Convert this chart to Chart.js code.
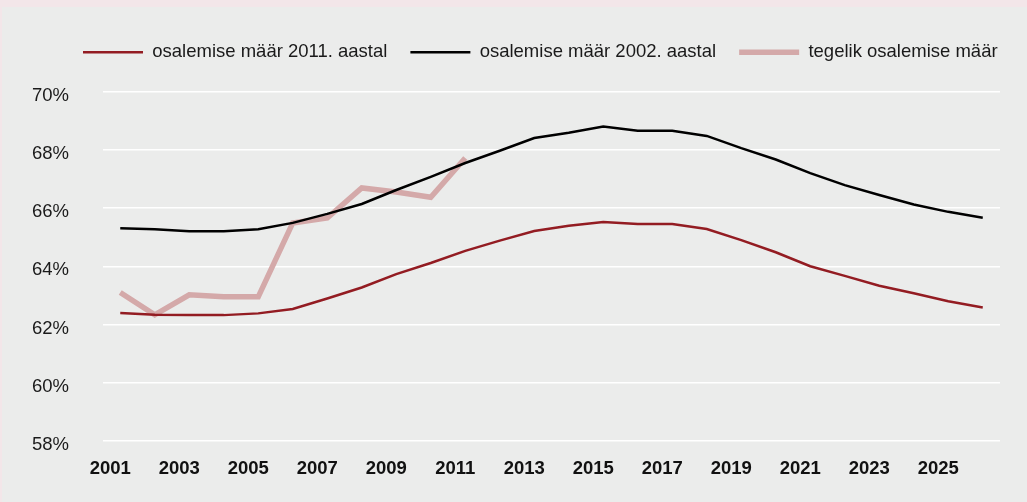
<!DOCTYPE html>
<html>
<head>
<meta charset="utf-8">
<script src="https://cdn.jsdelivr.net/npm/chart.js@4.4.1/dist/chart.umd.min.js"></script>
<style>
  html, body { margin: 0; padding: 0; }
  body { width: 1027px; height: 502px; background: #ebeceb; position: relative; overflow: hidden; }
  .band-top { position: absolute; left: 0; top: 0; width: 1027px; height: 7px; background: #f3e6e9; }
  .band-left { position: absolute; left: 0; top: 0; width: 2px; height: 502px; background: #f3e6e9; }
  .wrap { position: absolute; left: 0; top: 0; width: 1027px; height: 502px; }
</style>
</head>
<body>
<div class="band-top"></div>
<div class="band-left"></div>
<div class="wrap"><canvas id="chart" width="1027" height="502"></canvas></div>
<script>
const years = ['2001', '2002', '2003', '2004', '2005', '2006', '2007', '2008', '2009', '2010',
  '2011', '2012', '2013', '2014', '2015', '2016', '2017', '2018', '2019', '2020',
  '2021', '2022', '2023', '2024', '2025', '2026'];

// osalemise määr 2011. aastal (prognoos)
const forecast2011 = [62.39, 62.33, 62.32, 62.32, 62.38, 62.53, 62.89, 63.27, 63.73, 64.11,
  64.53, 64.88, 65.21, 65.39, 65.52, 65.45, 65.45, 65.28, 64.90, 64.48,
  64.00, 63.67, 63.33, 63.07, 62.80, 62.58];

// osalemise määr 2002. aastal (prognoos)
const forecast2002 = [65.31, 65.27, 65.20, 65.20, 65.27, 65.49, 65.80, 66.14, 66.62, 67.07,
  67.55, 67.97, 68.41, 68.59, 68.80, 68.66, 68.66, 68.48, 68.06, 67.67,
  67.20, 66.79, 66.45, 66.12, 65.87, 65.67];

// tegelik osalemise määr
const actual = [63.10, 62.33, 63.02, 62.95, 62.95, 65.49, 65.66, 66.69, 66.55, 66.37,
  67.72, null, null, null, null, null, null, null, null, null,
  null, null, null, null, null, null];

const yTicks = [58, 60, 62, 64, 66, 68, 70];

const fontFamily = "'Liberation Sans', Arial, Helvetica, sans-serif";

// nudge the legend row to the right, like in the original
const legendShift = {
  id: 'legendShift',
  afterLayout(chart) {
    if (!chart.legend) return;
    chart.legend.left += 28;
    chart.legend.right += 28;
  },
};

new Chart(document.getElementById('chart'), {
  type: 'line',
  data: {
    labels: years,
    datasets: [
      {
        label: 'osalemise määr 2011. aastal',
        data: forecast2011,
        borderColor: '#931c22',
        backgroundColor: '#931c22',
        borderWidth: 2.5,
        pointRadius: 0,
        tension: 0,
      },
      {
        label: 'osalemise määr 2002. aastal',
        data: forecast2002,
        borderColor: '#000000',
        backgroundColor: '#000000',
        borderWidth: 2.5,
        pointRadius: 0,
        tension: 0,
      },
      {
        label: 'tegelik osalemise määr',
        data: actual,
        borderColor: '#d4a9a9',
        backgroundColor: '#d4a9a9',
        borderWidth: 5.5,
        pointRadius: 0,
        tension: 0,
        spanGaps: false,
      },
    ],
  },
  plugins: [legendShift],
  options: {
    responsive: false,
    animation: false,
    maintainAspectRatio: false,
    layout: {
      padding: { left: 32, right: 27, top: 20, bottom: 5 },
    },
    plugins: {
      legend: {
        position: 'top',
        align: 'start',
        labels: {
          usePointStyle: true,
          pointStyle: 'line',
          pointStyleWidth: 60,
          padding: 23,
          color: '#1a1a1a',
          font: { family: fontFamily, size: 18.5 },
        },
      },
      // empty title used as a spacer between legend and plot
      title: {
        display: true,
        text: '',
        weight: 500,
        font: { size: 1 },
        padding: { top: 0, bottom: 19 },
      },
      tooltip: { enabled: false },
    },
    scales: {
      x: {
        offset: true,
        grid: { display: false, drawTicks: false },
        border: { display: false },
        ticks: {
          autoSkip: false,
          maxRotation: 0,
          labelOffset: -10,
          padding: 17,
          color: '#111111',
          font: { family: fontFamily, size: 18.5, weight: 'bold' },
          callback: function (value, index) {
            return index % 2 === 0 ? years[index] : '';
          },
        },
      },
      y: {
        min: 58,
        max: 70,
        afterBuildTicks: function (axis) {
          axis.ticks = yTicks.map(v => ({ value: v }));
        },
        afterFit: function (axis) {
          axis.width = 71;
        },
        grid: {
          color: '#ffffff',
          lineWidth: 1.5,
          drawTicks: false,
        },
        border: { display: false },
        ticks: {
          padding: 34,
          labelOffset: 4,
          color: '#1a1a1a',
          font: { family: fontFamily, size: 18.5 },
          callback: v => v + '%',
        },
      },
    },
  },
});
</script>
</body>
</html>
